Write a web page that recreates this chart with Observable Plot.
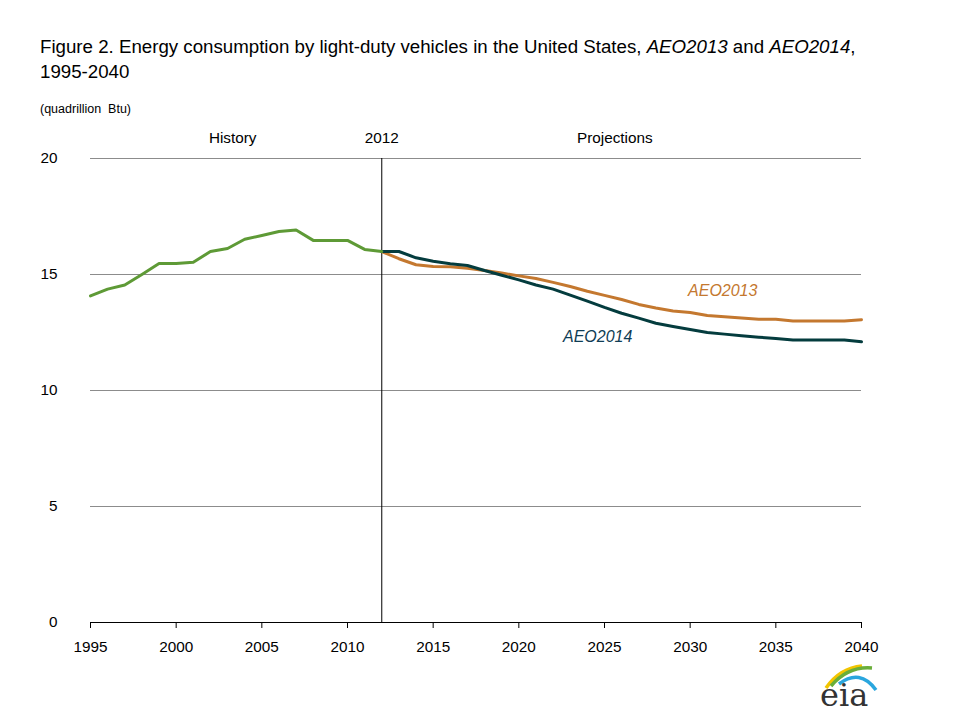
<!DOCTYPE html>
<html><head><meta charset="utf-8">
<script src="https://cdn.jsdelivr.net/npm/d3@7"></script>
<script src="https://cdn.jsdelivr.net/npm/@observablehq/plot@0.6"></script>
<style>
body{margin:0;background:#fff;font-family:"Liberation Sans",Arial,sans-serif;}
#wrap{position:relative;width:960px;height:720px;overflow:hidden;}
#title{position:absolute;left:40px;top:34px;font-size:18.7px;line-height:25px;color:#000;white-space:nowrap;}
#unit{position:absolute;left:40px;top:102px;font-size:12.5px;color:#000;}
#chart{position:absolute;left:0;top:0;}
#logo{position:absolute;left:814px;top:660px;}
</style></head>
<body>
<div id="wrap">
<div id="chart"></div>
<div id="title">Figure 2. Energy consumption by light-duty vehicles in the United States, <i>AEO2013</i> and <i>AEO2014</i>,<br>1995-2040</div>
<div id="unit">(quadrillion&nbsp; Btu)</div>
<svg id="logo" width="70" height="56" viewBox="0 0 70 56">
<path d="M12 28 Q26 8 48 6" stroke="#f2c500" stroke-width="3.5" fill="none"/>
<path d="M17 26 Q34 6 58 8" stroke="#6aae3a" stroke-width="3.5" fill="none"/>
<path d="M25 24 Q46 8 62 30" stroke="#2aa6de" stroke-width="3.5" fill="none"/>
<text x="6" y="46" font-family="DejaVu Serif,serif" font-size="32" fill="#333">eia</text>
</svg>
</div>
<script>
const histYears = [1995,1996,1997,1998,1999,2000,2001,2002,2003,2004,2005,2006,2007,2008,2009,2010,2011,2012];
const histValues = [14.08,14.37,14.55,15.0,15.47,15.47,15.53,15.99,16.12,16.52,16.68,16.85,16.92,16.47,16.47,16.47,16.08,15.99];
const projYears = [2012,2013,2014,2015,2016,2017,2018,2019,2020,2021,2022,2023,2024,2025,2026,2027,2028,2029,2030,2031,2032,2033,2034,2035,2036,2037,2038,2039,2040];
const aeo2014 = [15.99,15.99,15.72,15.57,15.46,15.39,15.17,14.97,14.77,14.55,14.37,14.11,13.85,13.58,13.33,13.12,12.90,12.76,12.63,12.50,12.43,12.36,12.30,12.24,12.18,12.18,12.18,12.18,12.10];
const aeo2013 = [15.99,15.68,15.42,15.34,15.33,15.27,15.17,15.06,14.94,14.83,14.66,14.48,14.28,14.10,13.92,13.71,13.56,13.43,13.36,13.23,13.18,13.13,13.07,13.07,13.00,13.00,13.00,13.00,13.05];
const xTicks = [1995,2000,2005,2010,2015,2020,2025,2030,2035,2040];
const yTicks = [0,5,10,15,20];
const dividerYear = 2012;
const regionLabels = [{x:2003.3,text:"History"},{x:2012,text:"2012"},{x:2025.6,text:"Projections"}];
const seriesLabels = [{x:2031.9,y:14.3,text:"AEO2013",color:"#c4782f"},{x:2024.6,y:12.3,text:"AEO2014",color:"#0f3d55"}];

const hist = histYears.map((y,i)=>({year:y,value:histValues[i]}));
const p13 = projYears.map((y,i)=>({year:y,value:aeo2013[i]}));
const p14 = projYears.map((y,i)=>({year:y,value:aeo2014[i]}));

const chart = Plot.plot({
  width:960, height:720,
  marginTop:158, marginBottom:98, marginLeft:90, marginRight:99,
  style:{fontFamily:'"Liberation Sans",Arial,sans-serif',fontSize:"15px",color:"#000",background:"transparent"},
  x:{domain:[1995,2040]},
  y:{domain:[0,20]},
  marks:[
    Plot.ruleY(yTicks.filter(d=>d>0),{stroke:"#8c8c8c",strokeWidth:1}),
    Plot.axisY({ticks:yTicks,tickSize:0,tickPadding:33,label:null,fontSize:15.3}),
    Plot.axisX({ticks:xTicks,tickSize:6,tickPadding:13,tickFormat:d=>String(d),label:null,fontSize:15.3,stroke:"#000"}),
    Plot.ruleY([0],{stroke:"#000",strokeWidth:1.2}),
    Plot.ruleX([dividerYear],{stroke:"#000",strokeWidth:1}),
    Plot.line(p13,{x:"year",y:"value",stroke:"#c4782f",strokeWidth:3}),
    Plot.line(p14,{x:"year",y:"value",stroke:"#043c3e",strokeWidth:3}),
    Plot.line(hist,{x:"year",y:"value",stroke:"#5e9a36",strokeWidth:3}),
    Plot.text(regionLabels,{x:"x",y:20,text:"text",dy:-20,fontSize:15.3,fill:"#000"}),
    Plot.text(seriesLabels,{x:"x",y:"y",text:"text",fill:"color",fontSize:16,fontStyle:"italic"})
  ]
});
document.getElementById("chart").appendChild(chart);
</script>
</body></html>
